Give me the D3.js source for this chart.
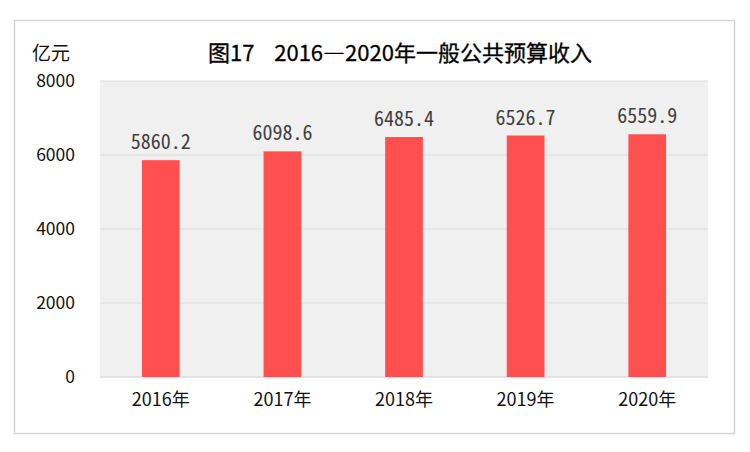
<!DOCTYPE html>
<html lang="zh">
<head>
  <meta charset="UTF-8">
  <title>图17 2016—2020年一般公共预算收入</title>
  <script src="https://d3js.org/d3.v7.min.js"></script>
  <style>
    html, body { margin: 0; padding: 0; background: #fff; }
    svg { display: block; }
    .cjk { font-family: "Noto Sans CJK SC", "Noto Sans", sans-serif; }
  </style>
</head>
<body>
  <div id="chart"></div>
  <script>
    const years = ['2016年', '2017年', '2018年', '2019年', '2020年'];
    const revenue = [5860.2, 6098.6, 6485.4, 6526.7, 6559.9];
    const yTicks = [0, 2000, 4000, 6000, 8000];

    const width = 750, height = 452;
    const plot = { left: 100, right: 708, top: 81, bottom: 377 };

    const svg = d3.select('#chart').append('svg')
      .attr('width', width)
      .attr('height', height);

    // outer frame
    svg.append('rect')
      .attr('x', 14.5).attr('y', 20.5)
      .attr('width', 720).attr('height', 413)
      .attr('fill', '#fff')
      .attr('stroke', '#d6d6d6')
      .attr('stroke-width', 1.5);

    const x = d3.scaleBand()
      .domain(years)
      .range([plot.left, plot.right])
      .paddingInner(0.69)
      .paddingOuter(0.345);

    const y = d3.scaleLinear()
      .domain([0, 8000])
      .range([plot.bottom, plot.top]);

    // plot background
    svg.append('rect')
      .attr('x', plot.left).attr('y', plot.top)
      .attr('width', plot.right - plot.left)
      .attr('height', plot.bottom - plot.top)
      .attr('fill', '#f0f0f0');

    // gridlines
    svg.append('g')
      .selectAll('line')
      .data(yTicks)
      .enter().append('line')
      .attr('x1', plot.left).attr('x2', plot.right)
      .attr('y1', d => y(d)).attr('y2', d => y(d))
      .attr('stroke', '#dcdcdc')
      .attr('stroke-width', d => d === 0 ? 1.5 : 1);

    // y axis labels
    const yAxis = svg.append('g')
      .attr('transform', `translate(${plot.left - 25},0)`)
      .call(d3.axisLeft(y).tickValues(yTicks).tickSize(0).tickPadding(0).tickFormat(d3.format('d')));
    yAxis.select('.domain').remove();
    yAxis.selectAll('text')
      .attr('class', 'cjk')
      .attr('font-size', 17.5)
      .attr('fill', '#111');

    // x axis labels
    const xAxis = svg.append('g')
      .attr('transform', `translate(0,${plot.bottom})`)
      .call(d3.axisBottom(x).tickSize(0).tickPadding(16));
    xAxis.select('.domain').remove();
    xAxis.selectAll('text')
      .attr('class', 'cjk')
      .attr('font-size', 18)
      .attr('fill', '#111');

    // bars
    svg.append('g')
      .selectAll('rect')
      .data(revenue)
      .enter().append('rect')
      .attr('x', (d, i) => x(years[i]))
      .attr('y', d => y(d))
      .attr('width', x.bandwidth())
      .attr('height', d => y(0) - y(d))
      .attr('fill', '#ff4f4f');

    // value labels
    svg.append('g')
      .selectAll('text')
      .data(revenue)
      .enter().append('text')
      .attr('x', (d, i) => x(years[i]) + x.bandwidth() / 2)
      .attr('y', d => y(d) - 11)
      .attr('text-anchor', 'middle')
      .attr('font-family', '"Noto Sans Mono CJK SC", "DejaVu Sans Mono", monospace')
      .attr('font-size', 20)
      .attr('fill', '#404040')
      .text(d => d.toFixed(1));

    // unit label
    svg.append('text')
      .attr('class', 'cjk')
      .attr('x', 51).attr('y', 60)
      .attr('text-anchor', 'middle')
      .attr('font-size', 19)
      .attr('fill', '#111')
      .text('亿元');

    // title
    svg.append('text')
      .attr('class', 'cjk')
      .attr('x', 400).attr('y', 61)
      .attr('text-anchor', 'middle')
      .attr('font-size', 22)
      .attr('fill', '#000')
      .attr('stroke', '#000')
      .attr('stroke-width', 0.3)
      .text('图17\u00a0\u00a0\u00a0\u00a02016—2020年一般公共预算收入');
  </script>
</body>
</html>
